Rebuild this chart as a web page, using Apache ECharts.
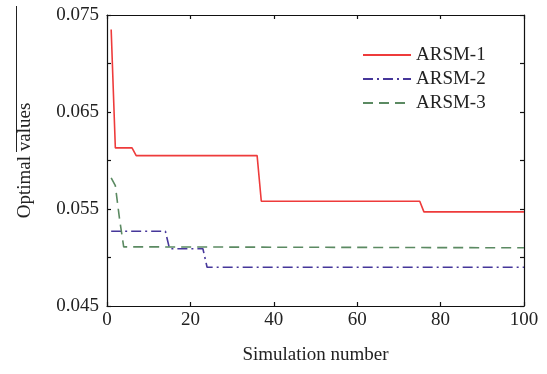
<!DOCTYPE html>
<html lang="en">
<head>
    <meta charset="UTF-8">
    <title>Optimal values</title>
    <script src="https://cdn.jsdelivr.net/npm/echarts@6/dist/echarts.min.js"></script>
</head>
<style>
    html, body {
        margin: 0;
        height: 100%;
        background: #ffffff;
    }
</style>
<body>
<div id="main" style="width: 547px;height:374px"></div>
<script type="text/javascript">
    // values (simulation number, optimal value)
    var arsm1X = [1, 2, 6, 7, 36, 37, 75, 76, 100];
    var arsm1Y = [0.0735, 0.0613, 0.0613, 0.0605, 0.0605, 0.0558, 0.0558, 0.0547, 0.0547];
    var arsm2X = [1, 14, 15, 23, 24, 100];
    var arsm2Y = [0.0527, 0.0527, 0.0509, 0.0509, 0.0490, 0.0490];
    var arsm3X = [1, 2, 3, 4, 100];
    var arsm3Y = [0.0582, 0.0574, 0.0540, 0.0511, 0.0510];
    var seriesNames = ['ARSM-1', 'ARSM-2', 'ARSM-3'];
    var labelledTicks = ['0.045', '0.055', '0.065', '0.075'];

    function pairs(xs, ys) {
        var out = [];
        for (var i = 0; i < xs.length; i++) {
            out.push([xs[i], ys[i]]);
        }
        return out;
    }

    var font = 'Liberation Serif';
    var myChart = echarts.init(document.getElementById('main'));
    var boxAxis = {
        axisLine: {show: true, onZero: false, lineStyle: {color: '#111', width: 1.2}},
        axisTick: {show: true, inside: true, length: 4, lineStyle: {color: '#111', width: 1.2}},
        splitLine: {show: false}
    };

    var option = {
        backgroundColor: '#ffffff',
        animation: false,
        grid: {left: 107, right: 23, top: 15, bottom: 68},
        legend: {
            orient: 'vertical',
            left: 357,
            top: 40,
            itemWidth: 48,
            itemHeight: 14,
            itemGap: 4,
            data: seriesNames,
            itemStyle: {opacity: 0},
            textStyle: {fontFamily: font, fontSize: 19, color: '#222', lineHeight: 20}
        },
        xAxis: [
            Object.assign({
                type: 'value', position: 'bottom', min: 0, max: 100, interval: 20,
                name: 'Simulation number', nameLocation: 'middle', nameGap: 40,
                nameTextStyle: {fontFamily: font, fontSize: 19, color: '#222'},
                axisLabel: {fontFamily: font, fontSize: 19, color: '#222', margin: 5}
            }, boxAxis),
            Object.assign({
                type: 'value', position: 'top', min: 0, max: 100, interval: 20,
                axisLabel: {show: false}
            }, boxAxis)
        ],
        yAxis: [
            Object.assign({
                type: 'value', position: 'left', min: 0.045, max: 0.075, interval: 0.005,
                name: 'Optimal values', nameLocation: 'middle', nameGap: 72,
                nameTextStyle: {fontFamily: font, fontSize: 19, color: '#222'},
                axisLabel: {
                    fontFamily: font, fontSize: 19, color: '#222', margin: 8,
                    formatter: function (v) {
                        var s = v.toFixed(3);
                        return labelledTicks.indexOf(s) >= 0 ? s : '';
                    }
                }
            }, boxAxis),
            Object.assign({
                type: 'value', position: 'right', min: 0.045, max: 0.075, interval: 0.005,
                axisLabel: {show: false}
            }, boxAxis)
        ],
        graphic: [{
            type: 'line',
            shape: {x1: 16.5, y1: 6, x2: 16.5, y2: 152},
            style: {stroke: '#222', lineWidth: 1}
        }],
        series: [
            {
                name: seriesNames[0], type: 'line', symbol: 'none',
                data: pairs(arsm1X, arsm1Y),
                itemStyle: {color: '#ee3b3b'},
                lineStyle: {color: '#ee3b3b', width: 1.6, type: 'solid'}
            },
            {
                name: seriesNames[1], type: 'line', symbol: 'none',
                data: pairs(arsm2X, arsm2Y),
                itemStyle: {color: '#46379a'},
                lineStyle: {color: '#46379a', width: 1.6, type: [10, 4, 2, 4]}
            },
            {
                name: seriesNames[2], type: 'line', symbol: 'none',
                data: pairs(arsm3X, arsm3Y),
                itemStyle: {color: '#5b8a62'},
                lineStyle: {color: '#5b8a62', width: 1.6, type: [10, 6]}
            }
        ]
    };
    myChart.setOption(option);
</script>
</body>
</html>
